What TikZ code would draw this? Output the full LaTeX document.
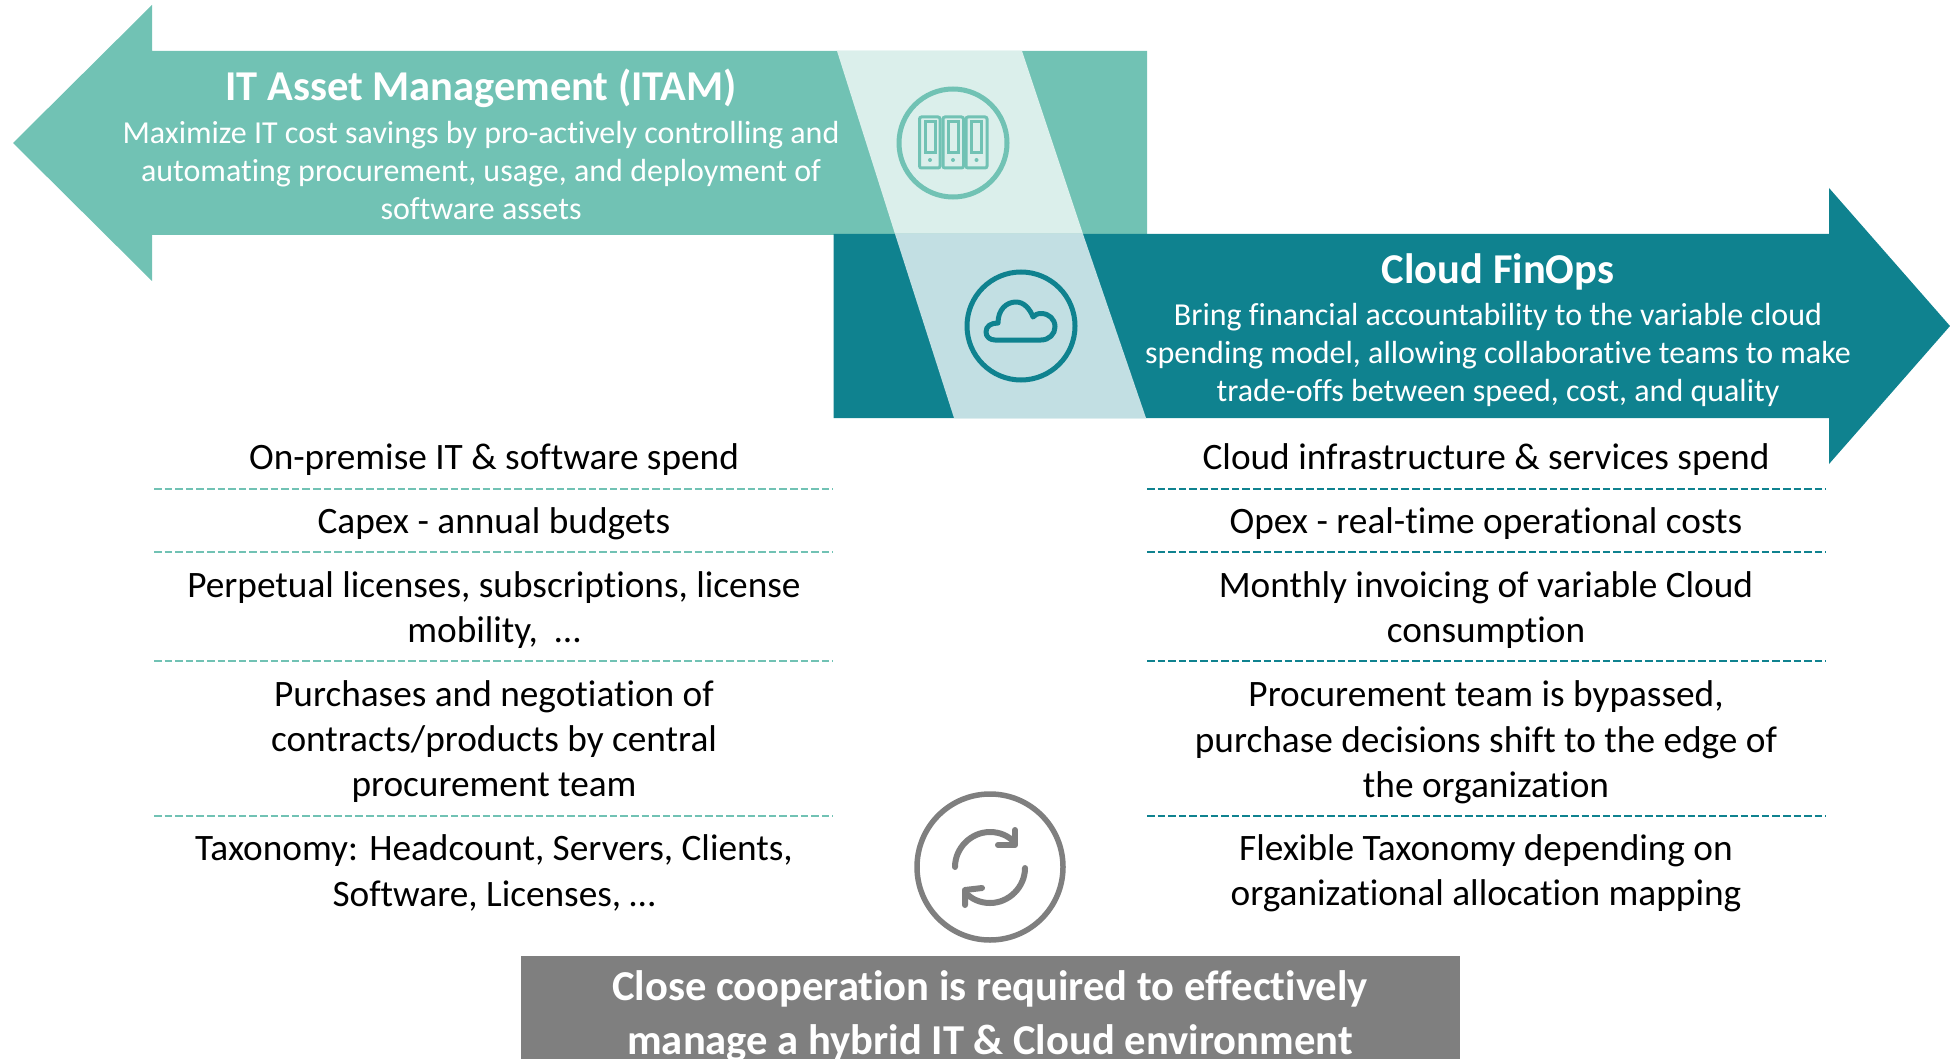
\documentclass[tikz,border=0pt]{standalone}
\usepackage{fontspec}
\setmainfont{Carlito}[Ligatures=NoCommon]
\definecolor{itam}{HTML}{71C2B4}
\definecolor{finops}{HTML}{0F828F}
\definecolor{itamband}{HTML}{DBEFEB}
\definecolor{finband}{HTML}{C2DFE3}
\definecolor{grayc}{HTML}{7F7F7F}
\tikzset{
  bodytext/.style={align=center,text=black,inner sep=0pt,font=\fontsize{37.3}{45.3}\selectfont},
  arrowtext/.style={align=center,text=white,inner sep=0pt,font=\fontsize{32}{38}\selectfont},
  arrowtitle/.style={align=center,text=white,inner sep=0pt,font=\fontsize{42.5}{48}\selectfont\bfseries},
  closetext/.style={align=center,text=white,inner sep=0pt,font=\fontsize{42.6}{54.5}\selectfont\bfseries},
  rule/.style={line width=2.4pt,dash pattern=on 7.6pt off 3pt},
  icon/.style={line width=5pt,line join=round,line cap=round,fill=none}
}
\begin{document}
\begin{tikzpicture}[x=1pt,y=-1pt]
\useasboundingbox (0,0) rectangle (1950,1059);
\clip (0,0) rectangle (1950,1059);
% left arrow
\fill[itam] (13,143) -- (152,5) -- (152,51) -- (1147,51) -- (1147,235) -- (152,235) -- (152,281) -- cycle;
\fill[itamband] (837,51) -- (1022,51) -- (1083,234) -- (895,234) -- cycle;
% right arrow
\fill[finops] (833.5,234) -- (1829,234) -- (1829,188) -- (1950,326) -- (1829,464) -- (1829,418) -- (833.5,418) -- cycle;
\fill[finband] (895,234) -- (1083,234) -- (1146,418) -- (954,418) -- cycle;
% server icon
\node[circle,draw=itam,line width=5pt,minimum size=108pt,inner sep=0pt] (c1) at (953,143) {};
\foreach \a/\b in {919.5/940,943/963.5,966/987}{
  \draw[itam,line width=3pt,rounded corners=2pt] (\a,117) rectangle (\b,168);
}
\foreach \a/\b in {925/935,948/958,971.5/981.5}{
  \draw[itam,line width=3pt] (\a,122) rectangle (\b,153);
}
\foreach \x in {930,953,976.5}{\fill[itam] (\x,160) circle (2pt);}
% cloud icon
\node[circle,draw=finops,line width=5pt,minimum size=108pt,inner sep=0pt] (c2) at (1021,326) {};
\draw[finops,icon] (995,340) -- (1041,340) .. controls (1049,340) and (1055,334) .. (1055,327)
  .. controls (1055,319) and (1049,313.5) .. (1041,313.5) .. controls (1037,313.5) and (1035,315) .. (1033,317)
  .. controls (1030,309) and (1024,302) .. (1016,302) .. controls (1006,302) and (998,310) .. (998,323)
  .. controls (991,323) and (986,326) .. (986,332) .. controls (986,337) and (990,340) .. (995,340) -- cycle;
% sync icon
\node[circle,draw=grayc,line width=5.5pt,minimum size=146pt,inner sep=0pt] (c3) at (990,867) {};
\draw[grayc,icon,line width=6pt] (955,867) .. controls (955,848) and (971,832) .. (990,832) .. controls (1000,832) and (1009,836) .. (1015,843);
\draw[grayc,icon,line width=6pt] (1015,830) -- (1015,845) -- (998,845);
\draw[grayc,icon,line width=6pt] (1025,868) .. controls (1025,887) and (1009,903) .. (990,903) .. controls (980,903) and (971,899) .. (965,892);
\draw[grayc,icon,line width=6pt] (965,905) -- (965,890) -- (982,888);
% titles and descriptions
\node[arrowtitle] (t1) at (481,88) {IT Asset Management (ITAM)};
\node[arrowtext] (d1) at (481,170.5) {Maximize IT cost savings by pro-actively controlling and\\automating procurement, usage, and deployment of\\software assets};
\node[arrowtitle] (t2) at (1498,272) {Cloud FinOps};
\node[arrowtext] (d2) at (1498,355) {Bring financial accountability to the variable cloud\\spending model, allowing collaborative teams to make\\trade-offs between speed, cost, and quality};
% rules
\foreach \y in {489,552,661,816}{
  \draw[rule,itam] (154,\y) -- (833,\y);
  \draw[rule,finops] (1147,\y) -- (1826,\y);
}
% left column
\node[bodytext] (l1) at (494,460) {On-premise IT \& software spend};
\node[bodytext] (l2) at (494,524) {Capex - annual budgets};
\node[bodytext] (l3) at (494,610) {Perpetual licenses, subscriptions, license\\mobility,~ …};
\node[bodytext] (l4) at (494,741.5) {Purchases and negotiation of\\contracts/products by central\\procurement team};
\node[bodytext] (l5) at (494,873) {Taxonomy: Headcount, Servers, Clients,\\Software, Licenses, …};
% right column
\node[bodytext] (r1) at (1486,460) {Cloud infrastructure \& services spend};
\node[bodytext] (r2) at (1486,524) {Opex - real-time operational costs};
\node[bodytext] (r3) at (1486,610) {Monthly invoicing of variable Cloud\\consumption};
\node[bodytext] (r4) at (1486,742.5) {Procurement team is bypassed,\\purchase decisions shift to the edge of\\the organization};
\node[bodytext] (r5) at (1486,873) {Flexible Taxonomy depending on\\organizational allocation mapping};
% closing box
\fill[grayc] (521,956) rectangle (1460,1070);
\node[closetext] (b) at (990,1016) {Close cooperation is required to effectively\\manage a hybrid IT \& Cloud environment};
\end{tikzpicture}
\end{document}
